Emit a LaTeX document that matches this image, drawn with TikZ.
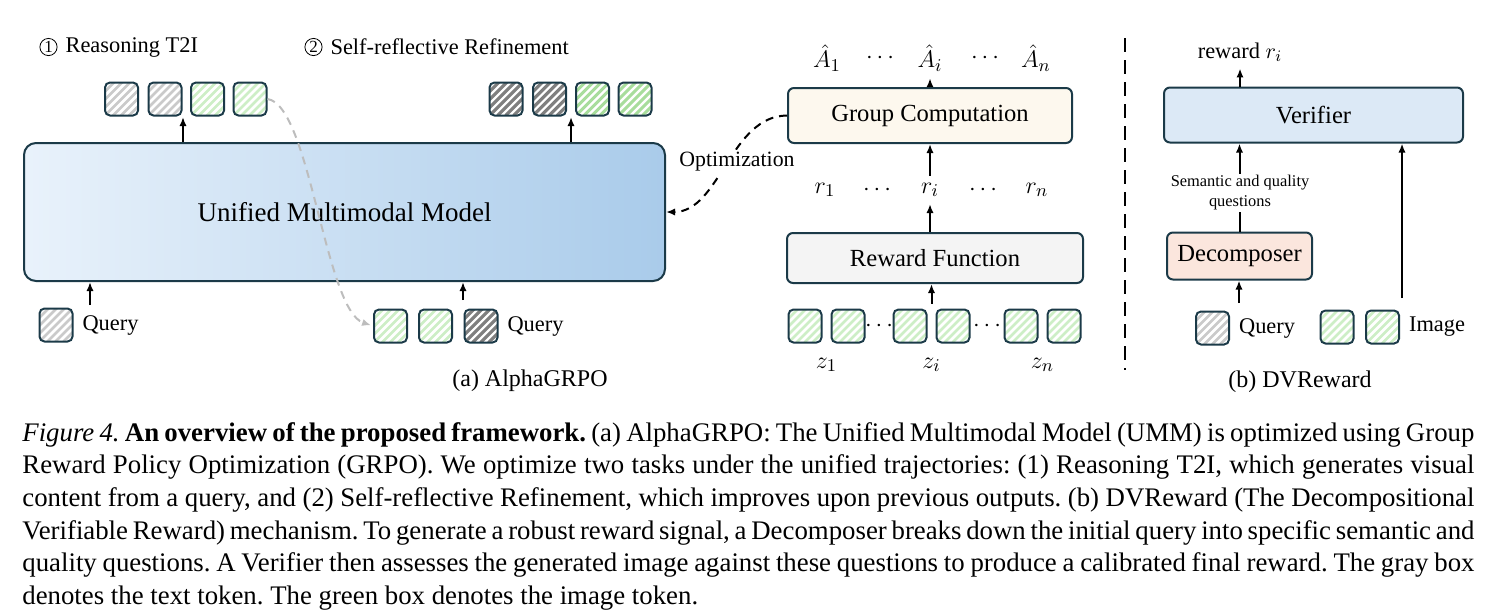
\documentclass[tikz,border=0pt]{standalone}
\usepackage{fontspec}
\setmainfont{Liberation Serif}
\usetikzlibrary{calc,positioning,arrows.meta}
\hyphenpenalty=10000
\exhyphenpenalty=10000

\definecolor{tokline}{HTML}{1B3A48}
\definecolor{hatchlite}{HTML}{CACACA}
\definecolor{hatchdark}{HTML}{7F7F7F}
\definecolor{greenlite}{HTML}{CDEEC6}
\definecolor{greenmid}{HTML}{A8DD9C}
\definecolor{ummleft}{HTML}{E9F2FB}
\definecolor{ummright}{HTML}{A9CBEA}
\definecolor{gcfill}{HTML}{FDF8EE}
\definecolor{rffill}{HTML}{F4F4F4}
\definecolor{verfill}{HTML}{DCE9F6}
\definecolor{decfill}{HTML}{FBE6DD}
\definecolor{curvegray}{HTML}{BDBDBD}

\tikzset{
  tok/.style={draw=tokline, line width=1pt, rounded corners=2.5pt, minimum size=16.5pt, inner sep=0pt},
  hatch/.style 2 args={path picture={
    \foreach \k in {-5,...,4}{\draw[#1, line width=#2] ([xshift=\k*4pt]path picture bounding box.south west) -- ++(22pt,22pt);}}},
  txtlite/.style={tok, hatch={hatchlite}{1.3pt}},
  txtdark/.style={tok, hatch={hatchdark}{1.6pt}},
  imglite/.style={tok, hatch={greenlite}{1.3pt}},
  imgmid/.style={tok, hatch={greenmid}{1.5pt}},
  blk/.style={draw=tokline, line width=1pt, rounded corners=3pt, inner sep=0pt},
  arr/.style={-{Latex[length=4.5pt,width=3.6pt]}, line width=1pt},
  lbl/.style={font=\fontsize{11.2}{13}\selectfont},
  numcirc/.style={circle, draw, line width=0.4pt, inner sep=0pt, minimum size=8.6pt, font=\fontsize{8.5}{10}\selectfont},
  boxfont/.style={font=\fontsize{12.3}{14}\selectfont},
  mathlbl/.style={font=\fontsize{12.5}{15}\selectfont},
}

\begin{document}
\begin{tikzpicture}[x=0.5pt, y=-0.5pt]
  \useasboundingbox (0,0) rectangle (1491,612);

  % (a) AlphaGRPO: task titles and output tokens
  \node[numcirc] (n1) at (48.5,47) {1};
  \node[lbl, right=0.5pt of n1] (ttl1) {Reasoning T2I};
  \node[numcirc] (n2) at (313.5,47) {2};
  \node[lbl, right=0.5pt of n2] (ttl2) {Self-reflective Refinement};
  \foreach \x/\s [count=\i] in {121.5/txtlite,165/txtlite,207.5/imglite,250/imglite}
    \node[\s] (t\i) at (\x,99) {};
  \foreach \x/\s [count=\i] in {506/txtdark,549.5/txtdark,592.5/imgmid,635/imgmid}
    \node[\s] (s\i) at (\x,99) {};

  \node[blk, rounded corners=6pt, left color=ummleft, right color=ummright,
        minimum width=320.5pt, minimum height=69pt, font=\fontsize{13.5}{16}\selectfont]
        (umm) at (344.5,212) {Unified Multimodal Model};

  \coordinate (tin) at (183,117);
  \coordinate (sin) at (571,117);
  \draw[arr] (umm.north -| tin) -- (tin);
  \draw[arr] (umm.north -| sin) -- (sin);

  % inputs
  \node[txtlite] (q0) at (56,325) {};
  \node[lbl, right=1pt of q0] (q0lab) {Query};
  \coordinate (qin) at (90,305);
  \draw[arr] (qin) -- (umm.south -| qin);

  \foreach \x/\s [count=\i] in {390.5/imglite,435.5/imglite,481/txtdark}
    \node[\s] (b\i) at (\x,326) {};
  \node[lbl, right=1pt of b3] (b3lab) {Query};
  \coordinate (bin) at (463,300);
  \draw[arr] (bin) -- (umm.south -| bin);

  % reuse of the first outputs
  \draw[curvegray, line width=1pt, dash pattern=on 4pt off 3pt, shorten >=1pt,
        -{Latex[length=4.5pt,width=3.6pt]}]
    (t4.east) .. controls (310,105) and (325,310) .. (b1.west);

  % group computation and rewards
  \node[blk, boxfont, fill=gcfill, minimum width=142pt, minimum height=27.5pt] (gc) at (930,115.5) {Group Computation};
  \node[blk, boxfont, fill=rffill, minimum width=148pt, minimum height=25pt] (rf) at (935,258) {Reward Function};

  \foreach \x/\t/\n in {827/{\hat{A}_1}/a1, 880/{\cdots}/ad1, 930/{\hat{A}_i}/ai, 985/{\cdots}/ad2, 1036/{\hat{A}_n}/an}
    \node[mathlbl] (\n) at (\x,58) {$\t$};
  \foreach \x/\t/\n in {825/{r_1}/r1, 877/{\cdots}/rd1, 930/{r_i}/ri, 983/{\cdots}/rd2, 1037/{r_n}/rn}
    \node[mathlbl] (\n) at (\x,190) {$\t$};

  \draw[arr] (gc.north) -- (gc.north |- ai.south);
  \draw[arr] (ri.north) -- (gc.south -| ri.north);
  \draw[arr] (ri.south |- rf.north) -- (ri.south);

  \foreach \x [count=\i] in {805,848,910,953,1021,1064}
    \node[imglite] (z\i) at (\x,326) {};
  \node[mathlbl] (zd1) at ($(z2.east)!0.5!(z3.west)$) {$\cdots$};
  \node[mathlbl] (zd2) at ($(z4.east)!0.5!(z5.west)$) {$\cdots$};
  \node[mathlbl] (zl1) at ($(z1)!0.5!(z2)+(0,39)$) {$z_1$};
  \node[mathlbl] (zli) at ($(z3)!0.5!(z4)+(0,39)$) {$z_i$};
  \node[mathlbl] (zln) at ($(z5)!0.5!(z6)+(0,39)$) {$z_n$};
  \coordinate (zin) at ($(z3.north east)!0.5!(z4.north west)+(0,-5)$);
  \draw[arr] (zin) -- (rf.south -| zin);

  % optimization feedback
  \draw[line width=1pt, dash pattern=on 4pt off 3pt, -{Latex[length=4.5pt,width=3.6pt]}]
    (gc.west) .. controls (730,116) and (720,212) .. (umm.east);
  \node[fill=white, inner sep=1pt, font=\fontsize{10.9}{13}\selectfont] (optlab) at (737,162) {Optimization};

  % separator
  \draw[line width=1.2pt, dash pattern=on 7pt off 4pt] (1125,38) -- (1125,370);

  % (b) DVReward
  \node[blk, boxfont, fill=verfill, minimum width=149.5pt, minimum height=27.5pt] (ver) at (1313.5,115) {Verifier};
  \node[lbl] (rwd) at (1240,52) {reward $r_i$};
  \draw[arr] (ver.north -| rwd) -- (rwd.south);
  \node[blk, boxfont, fill=decfill, minimum width=72.5pt, minimum height=23.5pt] (dec) at (1239.5,256) {Decomposer};
  \draw[arr] (dec.north) -- (ver.south -| dec.north);
  \node[fill=white, inner sep=1pt, align=center, font=\fontsize{8.2}{10}\selectfont] (sq) at (1240,193) {Semantic and quality\\questions};

  \node[txtlite] (rq) at (1212.5,328) {};
  \node[lbl, right=1pt of rq] (rqlab) {Query};
  \coordinate (rqin) at (1239,303);
  \draw[arr] (rqin) -- (dec.south -| rqin);

  \node[imglite] (im1) at (1337,327) {};
  \node[imglite] (im2) at (1382.5,327) {};
  \node[lbl, right=1pt of im2] (imlab) {Image};
  \coordinate (imin) at (1402,298);
  \draw[arr] (imin) -- (ver.south -| imin);

  % sub-captions and caption
  \node[font=\fontsize{12}{14}\selectfont] (suba) at (530,381) {(a) AlphaGRPO};
  \node[font=\fontsize{12}{14}\selectfont] (subb) at (1300,382) {(b) DVReward};

  \node[anchor=north west, text width=726pt, align=justify, inner sep=0pt,
        font=\fontsize{13.4}{16.3}\selectfont] (cap) at (22,422)
  {\frenchspacing
   \textit{Figure 4.} \textbf{An overview of the proposed framework.} (a) AlphaGRPO: The Unified Multimodal Model (UMM) is optimized using Group\linebreak
   Reward Policy Optimization (GRPO). We optimize two tasks under the unified trajectories: (1) Reasoning T2I, which generates visual\linebreak
   content from a query, and (2) Self-reflective Refinement, which improves upon previous outputs. (b) DVReward (The Decompositional\linebreak
   Verifiable Reward) mechanism. To generate a robust reward signal, a Decomposer breaks down the initial query into specific semantic and\linebreak
   quality questions. A Verifier then assesses the generated image against these questions to produce a calibrated final reward. The gray box\linebreak
   denotes the text token. The green box denotes the image token.};
\end{tikzpicture}
\end{document}
